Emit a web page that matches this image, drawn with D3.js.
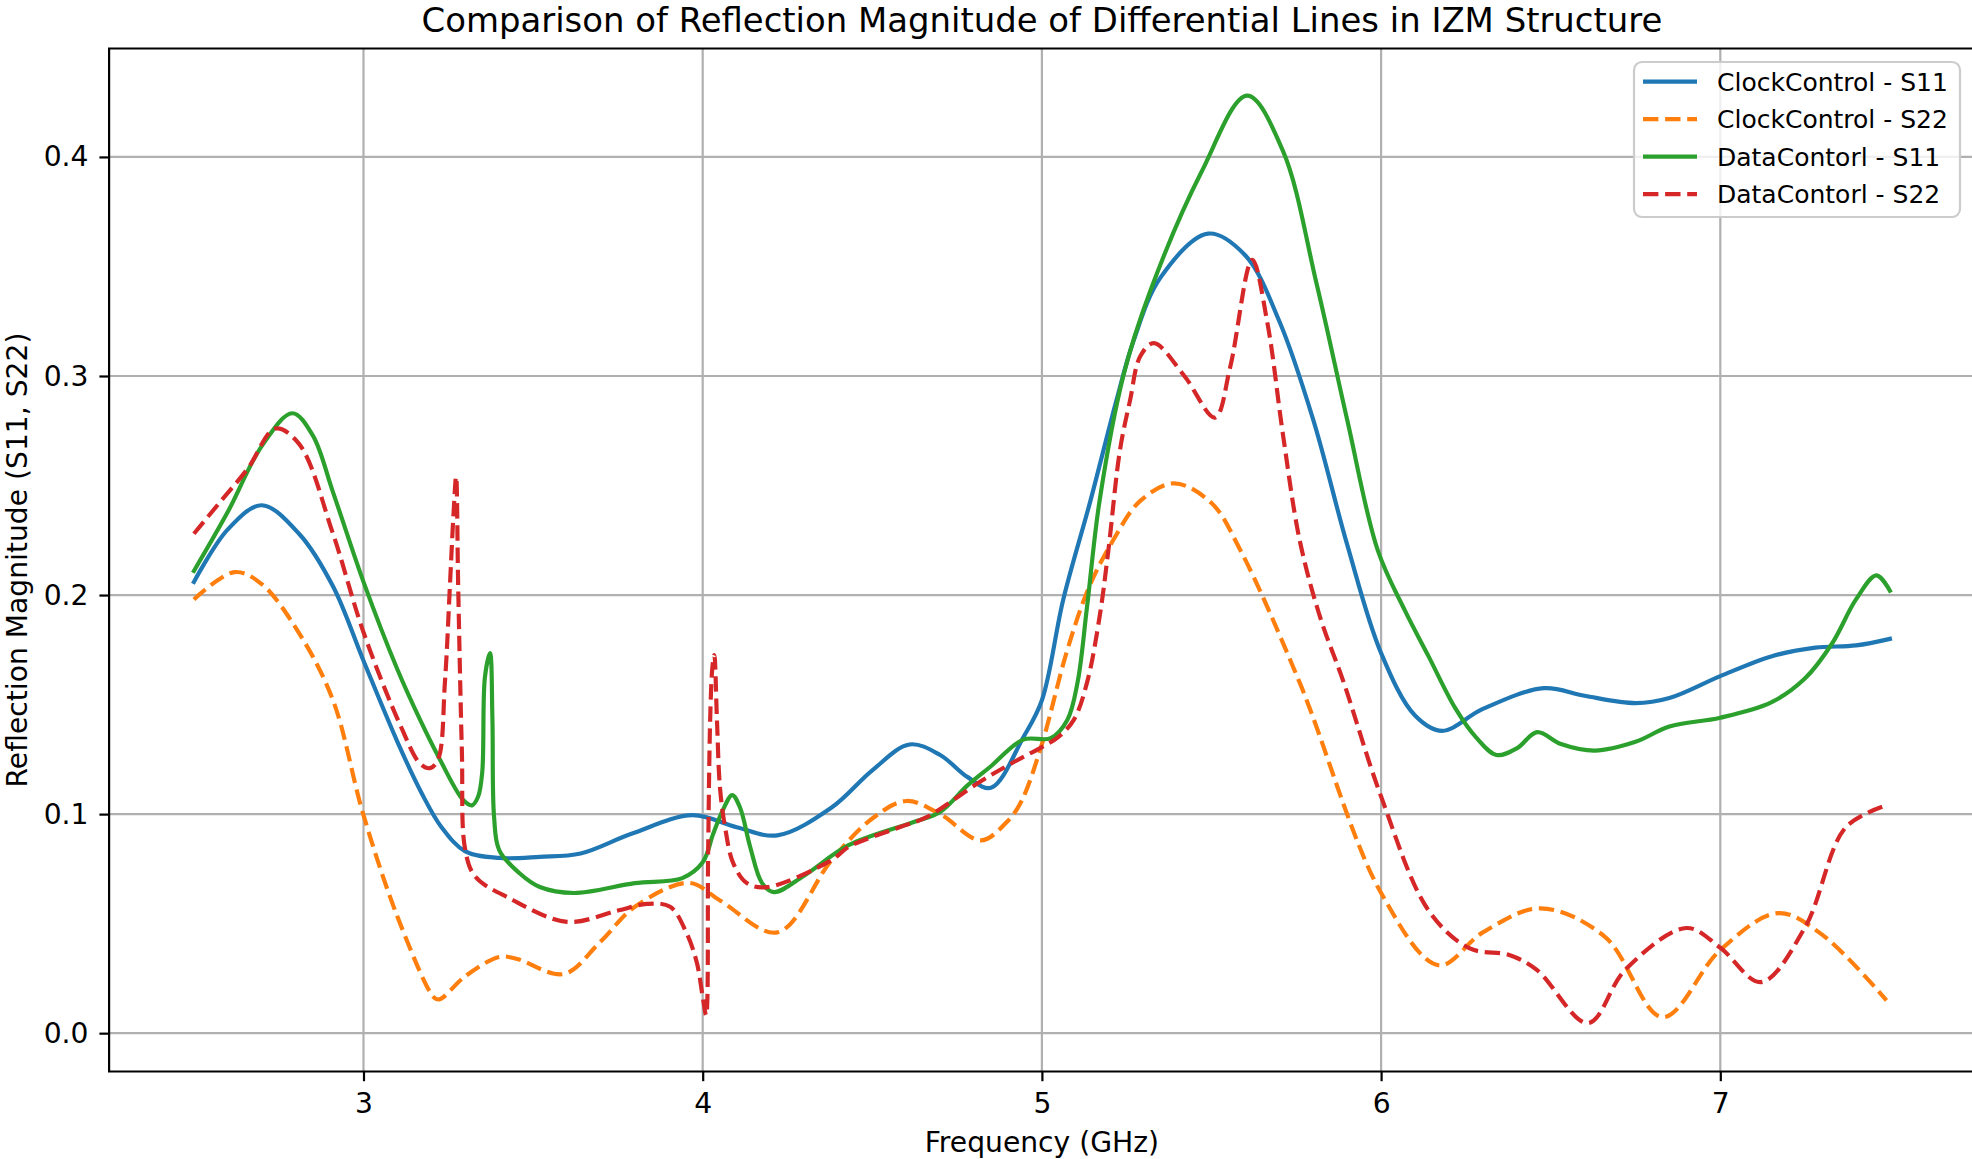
<!DOCTYPE html>
<html>
<head>
<meta charset="utf-8">
<script src="https://cdn.jsdelivr.net/npm/d3@7"></script>
<style>
  html, body { margin: 0; padding: 0; background: #ffffff; }
  svg { display: block; font-family: "DejaVu Sans", sans-serif; }
</style>
</head>
<body>
<svg id="chart" width="1972" height="1159"></svg>
<script>
// ---------------- DATA ----------------
const title = "Comparison of Reflection Magnitude of Differential Lines in IZM Structure";
const xLabel = "Frequency (GHz)";
const yLabel = "Reflection Magnitude (S11, S22)";
const xTicks = [3, 4, 5, 6, 7];
const yTicks = [0.0, 0.1, 0.2, 0.3, 0.4];
const seriesNames = ["ClockControl - S11", "ClockControl - S22", "DataContorl - S11", "DataContorl - S22"];
const seriesColors = ["#1f77b4", "#ff7f0e", "#2ca02c", "#d62728"];
const seriesDashed = [false, true, false, true];

// ClockControl - S11
const ccS11_f = [2.50, 2.60, 2.70, 2.81, 2.91, 3.00, 3.10, 3.17, 3.23, 3.30, 3.40, 3.52, 3.64, 3.79, 3.97, 4.10, 4.22, 4.38, 4.50, 4.61, 4.70, 4.78, 4.85, 4.945, 5.00, 5.063, 5.143, 5.22, 5.27, 5.35, 5.49, 5.60, 5.70, 5.80, 5.90, 6.00, 6.10, 6.18, 6.30, 6.48, 6.60, 6.75, 6.85, 7.00, 7.15, 7.28, 7.40, 7.50];
const ccS11_v = [0.206, 0.230, 0.241, 0.228, 0.204, 0.170, 0.133, 0.110, 0.094, 0.083, 0.080, 0.0805, 0.082, 0.091, 0.0995, 0.094, 0.0903, 0.103, 0.120, 0.1318, 0.127, 0.117, 0.112, 0.135, 0.152, 0.198, 0.243, 0.289, 0.316, 0.345, 0.365, 0.355, 0.325, 0.280, 0.223, 0.1735, 0.145, 0.138, 0.148, 0.1575, 0.154, 0.1507, 0.153, 0.163, 0.172, 0.176, 0.177, 0.180];

// ClockControl - S22
const ccS22_f = [2.50, 2.62, 2.70, 2.81, 2.91, 3.00, 3.108, 3.21, 3.225, 3.30, 3.40, 3.45, 3.59, 3.70, 3.80, 3.96, 4.05, 4.22, 4.38, 4.50, 4.60, 4.70, 4.82, 4.90, 4.94, 5.00, 5.075, 5.14, 5.21, 5.29, 5.39, 5.50, 5.585, 5.76, 6.00, 6.17, 6.30, 6.47, 6.66, 6.83, 7.00, 7.17, 7.30, 7.49];
const ccS22_v = [0.198, 0.2105, 0.205, 0.1826, 0.152, 0.0995, 0.050, 0.016, 0.0155, 0.026, 0.0348, 0.034, 0.027, 0.042, 0.0577, 0.0686, 0.0607, 0.046, 0.079, 0.098, 0.106, 0.100, 0.088, 0.097, 0.106, 0.132, 0.175, 0.204, 0.225, 0.243, 0.251, 0.242, 0.2205, 0.160, 0.064, 0.031, 0.046, 0.057, 0.044, 0.0073, 0.038, 0.0548, 0.045, 0.015];

// DataContorl - S11
const dcS11_f = [2.50, 2.60, 2.70, 2.79, 2.85, 2.91, 3.00, 3.10, 3.167, 3.226, 3.294, 3.32, 3.338, 3.35, 3.358, 3.373, 3.38, 3.385, 3.40, 3.46, 3.52, 3.62, 3.80, 3.94, 4.00, 4.031, 4.06, 4.087, 4.11, 4.14, 4.175, 4.21, 4.30, 4.43, 4.62, 4.70, 4.78, 4.847, 4.945, 5.026, 5.075, 5.105, 5.133, 5.17, 5.24, 5.32, 5.47, 5.605, 5.71, 5.81, 5.90, 5.99, 6.07, 6.14, 6.22, 6.28, 6.34, 6.40, 6.46, 6.53, 6.63, 6.75, 6.85, 7.00, 7.15, 7.25, 7.33, 7.40, 7.46, 7.50];
const dcS11_v = [0.211, 0.238, 0.268, 0.283, 0.273, 0.247, 0.206, 0.166, 0.143, 0.1247, 0.1064, 0.104, 0.108, 0.119, 0.1626, 0.1735, 0.144, 0.0986, 0.0836, 0.073, 0.0667, 0.064, 0.0685, 0.0708, 0.078, 0.091, 0.102, 0.1087, 0.103, 0.085, 0.0685, 0.0644, 0.072, 0.0858, 0.0963, 0.101, 0.113, 0.1215, 0.134, 0.1347, 0.143, 0.160, 0.1945, 0.243, 0.300, 0.339, 0.393, 0.428, 0.403, 0.342, 0.280, 0.2205, 0.193, 0.172, 0.148, 0.135, 0.127, 0.130, 0.1374, 0.132, 0.129, 0.133, 0.140, 0.144, 0.151, 0.162, 0.178, 0.198, 0.209, 0.202];

// DataContorl - S22
const dcS22_f = [2.50, 2.58, 2.66, 2.74, 2.81, 2.91, 3.00, 3.11, 3.167, 3.196, 3.22, 3.24, 3.255, 3.265, 3.273, 3.279, 3.29, 3.30, 3.33, 3.43, 3.60, 3.75, 3.835, 3.904, 3.953, 3.983, 4.00, 4.01, 4.016, 4.022, 4.028, 4.034, 4.042, 4.051, 4.066, 4.09, 4.13, 4.19, 4.38, 4.43, 4.58, 4.66, 4.82, 4.92, 5.00, 5.047, 5.094, 5.133, 5.17, 5.196, 5.23, 5.26, 5.29, 5.33, 5.42, 5.51, 5.555, 5.62, 5.665, 5.71, 5.76, 5.82, 5.89, 6.00, 6.14, 6.26, 6.38, 6.46, 6.61, 6.72, 6.90, 7.00, 7.12, 7.25, 7.37, 7.49];
const dcS22_v = [0.228, 0.243, 0.258, 0.276, 0.269, 0.228, 0.183, 0.140, 0.123, 0.121, 0.125, 0.160, 0.205, 0.236, 0.254, 0.205, 0.129, 0.0836, 0.0714, 0.0616, 0.0508, 0.056, 0.059, 0.0577, 0.0455, 0.032, 0.0166, 0.0082, 0.082, 0.143, 0.166, 0.1726, 0.143, 0.112, 0.094, 0.0776, 0.0685, 0.0667, 0.079, 0.085, 0.094, 0.0986, 0.115, 0.124, 0.1306, 0.135, 0.143, 0.160, 0.190, 0.2205, 0.266, 0.289, 0.309, 0.315, 0.300, 0.281, 0.304, 0.353, 0.324, 0.274, 0.225, 0.190, 0.160, 0.108, 0.056, 0.0388, 0.0356, 0.0288, 0.0046, 0.029, 0.048, 0.039, 0.0233, 0.0484, 0.094, 0.104];

const seriesF = [ccS11_f, ccS22_f, dcS11_f, dcS22_f];
const seriesV = [ccS11_v, ccS22_v, dcS11_v, dcS22_v];

// ---------------- LAYOUT ----------------
const W = 1972, H = 1159;
const plot = { left: 109.1, right: 1974.7, top: 48.5, bottom: 1071.5 };
const lw = 4.17;

const svg = d3.select("#chart");
svg.append("rect").attr("x", 0).attr("y", 0).attr("width", W).attr("height", H).attr("fill", "#ffffff");

const x = d3.scaleLinear().domain([2.25, 7.75]).range([plot.left, plot.right]);
const y = d3.scaleLinear().domain([-0.0175, 0.4495]).range([plot.bottom, plot.top]);

// grid
const grid = svg.append("g");
grid.selectAll("line.gx").data(xTicks).enter().append("line")
  .attr("x1", d => x(d)).attr("x2", d => x(d))
  .attr("y1", plot.top).attr("y2", plot.bottom)
  .attr("stroke", "#b0b0b0").attr("stroke-width", 2.2);
grid.selectAll("line.gy").data(yTicks).enter().append("line")
  .attr("x1", plot.left).attr("x2", plot.right)
  .attr("y1", d => y(d)).attr("y2", d => y(d))
  .attr("stroke", "#b0b0b0").attr("stroke-width", 2.2);

// lines
const line = d3.line().curve(d3.curveCatmullRom.alpha(0.5)).x(d => x(d[0])).y(d => y(d[1]));
seriesNames.forEach((name, i) => {
  const pts = seriesF[i].map((f, k) => [f, seriesV[i][k]]);
  svg.append("path")
    .datum(pts)
    .attr("d", line)
    .attr("fill", "none")
    .attr("stroke", seriesColors[i])
    .attr("stroke-width", lw)
    .attr("stroke-linejoin", "round")
    .attr("stroke-linecap", seriesDashed[i] ? "butt" : "square")
    .attr("stroke-dasharray", seriesDashed[i] ? "15.4,6.7" : null);
});

// spines
svg.append("path")
  .attr("d", `M${plot.right},${plot.top}H${plot.left}V${plot.bottom}H${plot.right}`)
  .attr("fill", "none").attr("stroke", "#000").attr("stroke-width", 2.2);

// axes
const fs = 28.2;
const xAxis = d3.axisBottom(x).tickValues(xTicks).tickFormat(d3.format("d")).tickSize(9.7).tickPadding(11.5);
const gx = svg.append("g").attr("transform", `translate(0,${plot.bottom})`).call(xAxis);
const yAxis = d3.axisLeft(y).tickValues(yTicks).tickFormat(d3.format(".1f")).tickSize(9.7).tickPadding(10.9);
const gy = svg.append("g").attr("transform", `translate(${plot.left},0)`).call(yAxis);
[gx, gy].forEach(g => {
  g.select(".domain").remove();
  g.selectAll(".tick line").attr("stroke", "#000").attr("stroke-width", 2.2);
  g.selectAll(".tick text").attr("fill", "#000").style("font-size", fs + "px").style("font-family", "DejaVu Sans");
});

// title & labels
svg.append("text").attr("x", (plot.left + plot.right) / 2).attr("y", 32)
  .attr("text-anchor", "middle").style("font-size", "33.9px").attr("fill", "#000").text(title);
svg.append("text").attr("x", (plot.left + plot.right) / 2).attr("y", 1152)
  .attr("text-anchor", "middle").style("font-size", fs + "px").attr("fill", "#000").text(xLabel);
svg.append("text").attr("transform", `translate(27,${(plot.top + plot.bottom) / 2}) rotate(-90)`)
  .attr("text-anchor", "middle").style("font-size", fs + "px").attr("fill", "#000").text(yLabel);

// legend
const leg = svg.append("g");
leg.append("rect").attr("x", 1634).attr("y", 62).attr("width", 326).attr("height", 155)
  .attr("rx", 8).attr("ry", 8)
  .attr("fill", "#ffffff").attr("fill-opacity", 0.8)
  .attr("stroke", "#cccccc").attr("stroke-width", 2.2);
const rowY = [81.7, 119.2, 156.7, 194.2];
seriesNames.forEach((name, i) => {
  leg.append("line").attr("x1", 1643).attr("x2", 1697).attr("y1", rowY[i]).attr("y2", rowY[i])
    .attr("stroke", seriesColors[i]).attr("stroke-width", lw)
    .attr("stroke-dasharray", seriesDashed[i] ? "15.4,6.7" : null);
  leg.append("text").attr("x", 1717).attr("y", rowY[i] + 9.2)
    .style("font-size", "25px").attr("fill", "#000").text(name);
});
</script>
</body>
</html>
